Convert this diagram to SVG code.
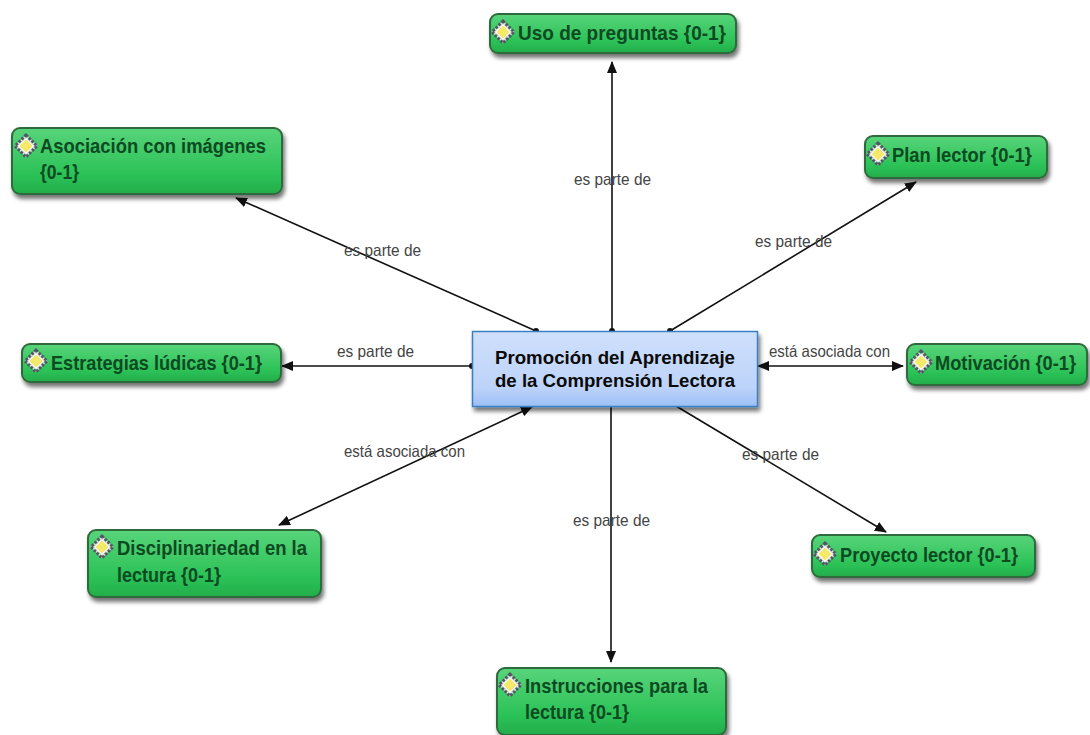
<svg xmlns="http://www.w3.org/2000/svg" width="1090" height="735" viewBox="0 0 1090 735">
<style>
.n{fill:url(#g);stroke:#2f6b3c;stroke-width:2}
.t{font-family:"Liberation Sans",Arial,sans-serif;font-size:21px;font-weight:bold;fill:#0c4a22}
.l{font-family:"Liberation Sans",Arial,sans-serif;font-size:16.500px;fill:#444}
.c{stroke:#111;stroke-width:1.600;fill:none;marker-end:url(#a)}
.m{font-family:"Liberation Sans",Arial,sans-serif;font-size:18.500px;font-weight:bold;fill:#0a0a0a}
</style>
<defs>
<linearGradient id="g" x1="0" y1="0" x2="0" y2="1"><stop offset="0" stop-color="#58d47a"/><stop offset=".7" stop-color="#2cc257"/><stop offset="1" stop-color="#23ad4b"/></linearGradient>
<linearGradient id="b" x1="0" y1="0" x2="0" y2="1"><stop offset="0" stop-color="#d0e0fb"/><stop offset=".75" stop-color="#bcd3fa"/><stop offset="1" stop-color="#9dbff6"/></linearGradient>
<filter id="s" x="-10%" y="-20%" width="120%" height="150%"><feGaussianBlur in="SourceAlpha" stdDeviation="2"/><feOffset dx="2" dy="4"/><feComponentTransfer><feFuncA type="linear" slope=".55"/></feComponentTransfer><feMerge><feMergeNode/><feMergeNode in="SourceGraphic"/></feMerge></filter>
<marker id="a" viewBox="0 0 12 10" refX="11" refY="5" markerWidth="12" markerHeight="10" markerUnits="userSpaceOnUse" orient="auto-start-reverse"><path d="M0 0L12 5L0 10Z" fill="#111"/></marker>
<marker id="d" viewBox="0 0 6 6" refX="3" refY="3" markerWidth="6" markerHeight="6" markerUnits="userSpaceOnUse"><circle cx="3" cy="3" r="3" fill="#111"/></marker>
<g id="i"><path d="M0-11L11 0L0 11L-11 0Z" fill="#dfe8df" stroke="#556" stroke-width="3" stroke-dasharray="2.500 1.500"/><path d="M0-7L7 0L0 7L-7 0Z" fill="#f5e96a" stroke="#fff" stroke-width="1"/></g>
</defs>
<rect width="1090" height="735" fill="#fff"/>
<g id="connectors">
<path class="c" d="M612 331V62" marker-start="url(#d)"/>
<path class="c" d="M536 331L236 198" marker-start="url(#d)"/>
<path class="c" d="M670 331L916 182" marker-start="url(#d)"/>
<path class="c" d="M472 366H282" marker-start="url(#d)"/>
<path class="c" d="M758 366H903" marker-start="url(#a)"/>
<path class="c" d="M532 407L279 525" marker-start="url(#a)"/>
<path class="c" d="M611 406V662"/>
<path class="c" d="M676 406L886 532"/>
</g>
<g id="connector-labels">
<text class="l" x="574" y="185" textLength="77" lengthAdjust="spacingAndGlyphs">es parte de</text>
<text class="l" x="344" y="256" textLength="77" lengthAdjust="spacingAndGlyphs">es parte de</text>
<text class="l" x="755" y="247" textLength="77" lengthAdjust="spacingAndGlyphs">es parte de</text>
<text class="l" x="337" y="357" textLength="77" lengthAdjust="spacingAndGlyphs">es parte de</text>
<text class="l" x="769" y="357" textLength="121" lengthAdjust="spacingAndGlyphs">está asociada con</text>
<text class="l" x="344" y="457" textLength="121" lengthAdjust="spacingAndGlyphs">está asociada con</text>
<text class="l" x="742" y="460" textLength="77" lengthAdjust="spacingAndGlyphs">es parte de</text>
<text class="l" x="573" y="526" textLength="77" lengthAdjust="spacingAndGlyphs">es parte de</text>
</g>
<g id="uso"><rect class="n" filter="url(#s)" x="490" y="14" width="246" height="39" rx="8"/><use href="#i" x="503" y="32"/><text class="t" x="518" y="40" textLength="208" lengthAdjust="spacingAndGlyphs">Uso de preguntas {0-1}</text></g>
<g id="asociacion"><rect class="n" filter="url(#s)" x="12" y="128" width="270" height="66" rx="8"/><use href="#i" x="26" y="146"/><text class="t" x="40" y="153" textLength="226" lengthAdjust="spacingAndGlyphs">Asociación con imágenes</text><text class="t" x="40" y="179" textLength="39" lengthAdjust="spacingAndGlyphs">{0-1}</text></g>
<g id="plan"><rect class="n" filter="url(#s)" x="865" y="136" width="182" height="42" rx="8"/><use href="#i" x="878" y="154"/><text class="t" x="892" y="162" textLength="140" lengthAdjust="spacingAndGlyphs">Plan lector {0-1}</text></g>
<g id="motivacion"><rect class="n" filter="url(#s)" x="907" y="344" width="180" height="41" rx="8"/><use href="#i" x="921" y="362"/><text class="t" x="935" y="370" textLength="141" lengthAdjust="spacingAndGlyphs">Motivación {0-1}</text></g>
<g id="estrategias"><rect class="n" filter="url(#s)" x="22" y="344" width="259" height="38" rx="8"/><use href="#i" x="36" y="361"/><text class="t" x="51" y="370" textLength="211" lengthAdjust="spacingAndGlyphs">Estrategias lúdicas {0-1}</text></g>
<g id="disciplinariedad"><rect class="n" filter="url(#s)" x="88" y="530" width="233" height="67" rx="8"/><use href="#i" x="102" y="547"/><text class="t" x="117" y="555" textLength="190" lengthAdjust="spacingAndGlyphs">Disciplinariedad en la</text><text class="t" x="117" y="582" textLength="104" lengthAdjust="spacingAndGlyphs">lectura {0-1}</text></g>
<g id="proyecto"><rect class="n" filter="url(#s)" x="812" y="535" width="223" height="42" rx="8"/><use href="#i" x="825" y="554"/><text class="t" x="840" y="562" textLength="178" lengthAdjust="spacingAndGlyphs">Proyecto lector {0-1}</text></g>
<g id="instrucciones"><rect class="n" filter="url(#s)" x="497" y="668" width="229" height="67" rx="8"/><use href="#i" x="510" y="685"/><text class="t" x="525" y="693" textLength="183" lengthAdjust="spacingAndGlyphs">Instrucciones para la</text><text class="t" x="525" y="719" textLength="104" lengthAdjust="spacingAndGlyphs">lectura {0-1}</text></g>
<g id="central"><rect filter="url(#s)" x="472.500" y="331.500" width="285" height="75" fill="url(#b)" stroke="#3a7fc1" stroke-width="1.500"/><text class="m" x="495" y="364" textLength="240" lengthAdjust="spacingAndGlyphs">Promoción del Aprendizaje</text><text class="m" x="495" y="387" textLength="240" lengthAdjust="spacingAndGlyphs">de la Comprensión Lectora</text></g>
</svg>
